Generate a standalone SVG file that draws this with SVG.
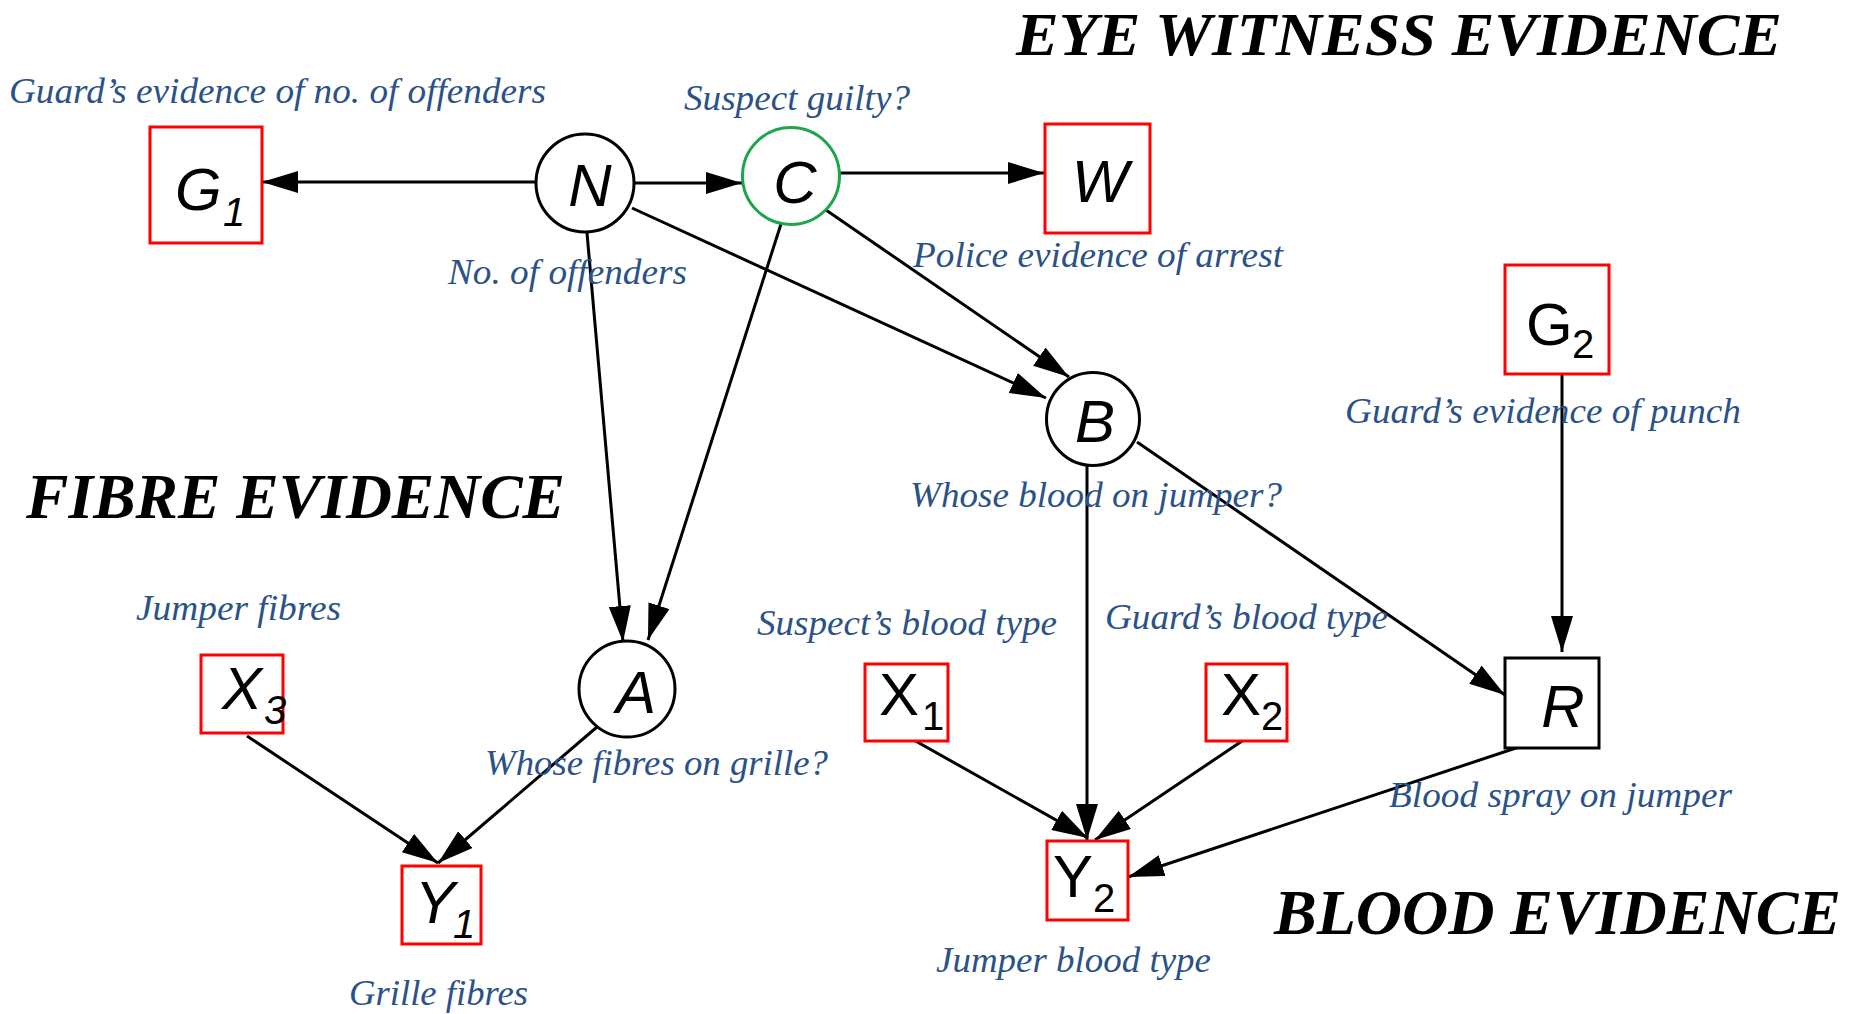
<svg xmlns="http://www.w3.org/2000/svg" width="1858" height="1014" viewBox="0 0 1858 1014">
<style>
.lbl{font-family:"Liberation Serif","Times New Roman",serif;font-style:italic;font-size:35px;fill:#2b5288}
.ttl{font-family:"Liberation Serif","Times New Roman",serif;font-style:italic;font-weight:bold;font-size:63px;fill:#000}
.v{font-family:"Liberation Sans",Arial,sans-serif;font-size:60px;fill:#000}
.vi{font-style:italic}
.sub{font-size:40px}
.circ{fill:#fff;stroke:#000;stroke-width:3}
.obs{fill:#fff;stroke:#ff0000;stroke-width:3}
.box{fill:#fff;stroke:#000;stroke-width:3}
.edge{fill:none;stroke:#000;stroke-width:3;marker-end:url(#ah)}
</style>
<defs>
<marker id="ah" markerUnits="userSpaceOnUse" markerWidth="36" markerHeight="22" viewBox="0 0 36 22" refX="36" refY="11" orient="auto">
<path d="M0,0 L36,11 L0,22 z" fill="#000"/>
</marker>
</defs>
<rect width="1858" height="1014" fill="#fff"/>

<g id="titles">
<text class="ttl" x="1016" y="55" style="font-size:62px" textLength="766" lengthAdjust="spacingAndGlyphs">EYE WITNESS EVIDENCE</text>
<text class="ttl" x="26" y="518" textLength="539" lengthAdjust="spacingAndGlyphs">FIBRE EVIDENCE</text>
<text class="ttl" x="1274" y="934" textLength="567" lengthAdjust="spacingAndGlyphs">BLOOD EVIDENCE</text>
</g>

<g id="connectors">
<path class="edge" d="M536,182 L262,182"/>
<path class="edge" d="M633,183 L742,183"/>
<path class="edge" d="M840,173 L1044,173"/>
<path class="edge" d="M632,208 L1046,398"/>
<path class="edge" d="M823,208 L1069,377"/>
<path class="edge" d="M587,233 L623,642"/>
<path class="edge" d="M781,224 L648,640"/>
<path class="edge" d="M597,727 L438,863"/>
<path class="edge" d="M247,736 L438,863"/>
<path class="edge" d="M1087,464 L1087,840"/>
<path class="edge" d="M912,739 L1088,838"/>
<path class="edge" d="M1248,737 L1095,840"/>
<path class="edge" d="M1525,745 L1128,877"/>
<path class="edge" d="M1137,442 L1505,695"/>
<path class="edge" d="M1562,374 L1562,652"/>
</g>

<g id="node-G1">
<rect class="obs" x="150" y="127" width="112" height="116"/>
<text class="v vi" x="175" y="210">G</text>
<text class="v vi sub" x="223" y="226">1</text>
<text class="lbl" x="9" y="103" textLength="537" lengthAdjust="spacingAndGlyphs">Guard’s evidence of no. of offenders</text>
</g>

<g id="node-N">
<circle class="circ" cx="585" cy="183" r="49"/>
<text class="v vi" x="590" y="206" text-anchor="middle">N</text>
<text class="lbl" x="448" y="284" textLength="239" lengthAdjust="spacingAndGlyphs">No. of offenders</text>
</g>

<g id="node-C">
<circle cx="791" cy="176" r="48.5" fill="#fff" stroke="#1aa64a" stroke-width="3"/>
<text class="v vi" x="795" y="203" text-anchor="middle">C</text>
<text class="lbl" x="684" y="110" textLength="226" lengthAdjust="spacingAndGlyphs">Suspect guilty?</text>
</g>

<g id="node-W">
<rect class="obs" x="1045" y="124" width="105" height="109"/>
<text class="v vi" x="1100" y="202" text-anchor="middle">W</text>
<text class="lbl" x="913" y="267" textLength="370" lengthAdjust="spacingAndGlyphs">Police evidence of arrest</text>
</g>

<g id="node-B">
<circle class="circ" cx="1093" cy="419" r="46.5"/>
<text class="v vi" x="1095" y="442" text-anchor="middle">B</text>
<text class="lbl" x="910" y="507" textLength="372" lengthAdjust="spacingAndGlyphs">Whose blood on jumper?</text>
</g>

<g id="node-G2">
<rect class="obs" x="1505" y="265" width="104" height="109"/>
<text class="v" x="1526" y="345">G</text>
<text class="v sub" x="1572" y="358">2</text>
<text class="lbl" x="1345" y="423" textLength="396" lengthAdjust="spacingAndGlyphs">Guard’s evidence of punch</text>
</g>

<g id="node-A">
<circle class="circ" cx="627" cy="689" r="48"/>
<text class="v vi" x="636" y="713" text-anchor="middle">A</text>
<text class="lbl" x="485" y="775" textLength="343" lengthAdjust="spacingAndGlyphs">Whose fibres on grille?</text>
</g>

<g id="node-X3">
<rect class="obs" x="201" y="655" width="82" height="78"/>
<text class="v vi" x="222" y="709">X</text>
<text class="v vi sub" x="264" y="724">3</text>
<text class="lbl" x="136" y="620" textLength="205" lengthAdjust="spacingAndGlyphs">Jumper fibres</text>
</g>

<g id="node-Y1">
<rect class="obs" x="402" y="866" width="79" height="78"/>
<text class="v vi" x="415" y="923">Y</text>
<text class="v vi sub" x="453" y="938">1</text>
<text class="lbl" x="349" y="1005" textLength="179" lengthAdjust="spacingAndGlyphs">Grille fibres</text>
</g>

<g id="node-X1">
<rect class="obs" x="865" y="664" width="83" height="77"/>
<text class="v" x="879" y="715">X</text>
<text class="v sub" x="922" y="730">1</text>
<text class="lbl" x="757" y="635" textLength="300" lengthAdjust="spacingAndGlyphs">Suspect’s blood type</text>
</g>

<g id="node-X2">
<rect class="obs" x="1206" y="664" width="81" height="77"/>
<text class="v" x="1221" y="715">X</text>
<text class="v sub" x="1261" y="730">2</text>
<text class="lbl" x="1105" y="629" textLength="283" lengthAdjust="spacingAndGlyphs">Guard’s blood type</text>
</g>

<g id="node-R">
<rect class="box" x="1505" y="658" width="94" height="90"/>
<text class="v vi" x="1563" y="727" text-anchor="middle">R</text>
<text class="lbl" x="1389" y="807" textLength="343" lengthAdjust="spacingAndGlyphs">Blood spray on jumper</text>
</g>

<g id="node-Y2">
<rect class="obs" x="1047" y="841" width="81" height="79"/>
<text class="v" x="1053" y="897">Y</text>
<text class="v sub" x="1093" y="912">2</text>
<text class="lbl" x="936" y="972" textLength="275" lengthAdjust="spacingAndGlyphs">Jumper blood type</text>
</g>
</svg>
